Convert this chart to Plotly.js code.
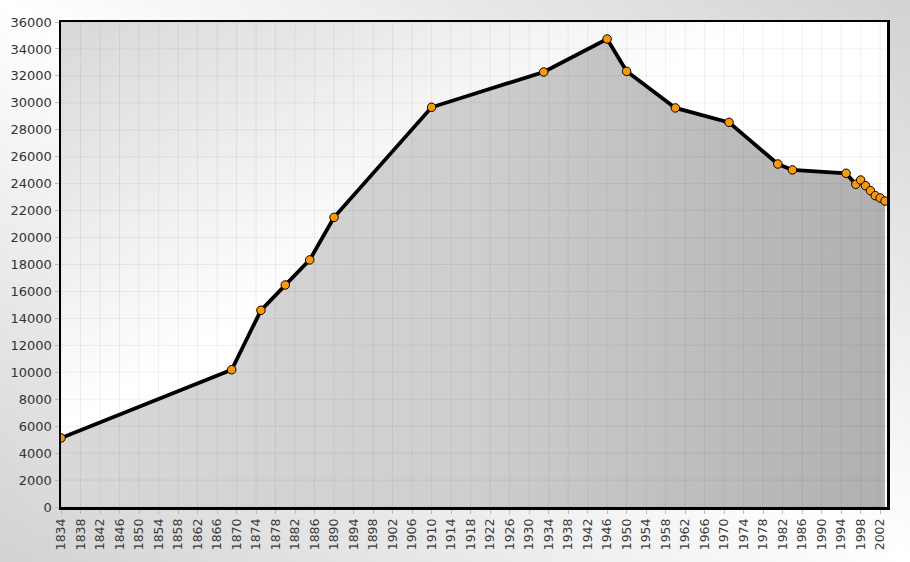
<!DOCTYPE html>
<html>
<head>
<meta charset="utf-8">
<script src="https://cdn.plot.ly/plotly-3.0.1.min.js"></script>
<style>
  html, body { margin: 0; padding: 0; }
  #chart {
    width: 910px; height: 562px;
    background:
      linear-gradient(to bottom right, #d8d8d8 0%, #ffffff 42%, #ffffff 100%) 61px 22px / 826px 485px no-repeat,
      linear-gradient(to top right, #d2d2d2 0%, #ffffff 50%, #d2d2d2 100%);
  }
</style>
</head>
<body>
<div id="chart"></div>
<script>
// Population data
var years = [1834, 1869, 1875, 1880, 1885, 1890, 1910, 1933, 1946, 1950, 1960, 1971, 1981, 1984, 1995, 1997, 1998, 1999, 2000, 2001, 2002, 2003];
var population = [5120, 10190, 14600, 16480, 18340, 21500, 29670, 32290, 34740, 32340, 29620, 28550, 25460, 25020, 24770, 23950, 24270, 23850, 23480, 23110, 22940, 22710];

// Tick labels
var xTickVals = [];
for (var yr = 1834; yr <= 2002; yr += 4) xTickVals.push(yr);
var yTickVals = [];
for (var v = 0; v <= 36000; v += 2000) yTickVals.push(v);

var shapes = [];
xTickVals.forEach(function (t) {
  shapes.push({type: 'line', xref: 'x', yref: 'paper', x0: t, x1: t, y0: 0, y1: 1,
    line: {color: 'rgba(0,0,0,0.06)', width: 1}, layer: 'above'});
});
yTickVals.forEach(function (t) {
  shapes.push({type: 'line', xref: 'paper', yref: 'y', x0: 0, x1: 1, y0: t, y1: t,
    line: {color: 'rgba(0,0,0,0.06)', width: 1}, layer: 'above'});
});

var traces = [
  {
    x: years, y: population, type: 'scatter', mode: 'none',
    fill: 'tozeroy',
    fillgradient: {type: 'horizontal', colorscale: [[0, '#d8d8d8'], [0.5, '#cecece'], [1, '#b0b0b0']]},
    hoverinfo: 'skip', showlegend: false
  },
  {
    x: years, y: population, type: 'scatter', mode: 'lines+markers',
    line: {color: '#000000', width: 3.8},
    marker: {color: '#ff9900', size: 8.5, line: {color: '#000000', width: 1}},
    showlegend: false
  }
];

var layout = {
  width: 910, height: 562,
  margin: {l: 61, r: 23, t: 22, b: 55},
  paper_bgcolor: 'rgba(0,0,0,0)',
  plot_bgcolor: 'rgba(0,0,0,0)',
  font: {family: 'DejaVu Sans', color: '#333333', size: 13},
  xaxis: {
    range: [1834, 2003.4],
    tickmode: 'array', tickvals: xTickVals, ticktext: xTickVals.map(String),
    tickangle: -90, showgrid: false, zeroline: false,
    showline: true, linecolor: '#000000', linewidth: 2.5, mirror: true,
    ticks: 'outside', ticklen: 4, tickcolor: '#bbbbbb',
    tickfont: {family: 'DejaVu Sans', size: 12.5, color: '#3a3a3a'}
  },
  yaxis: {
    range: [0, 36000],
    tickmode: 'array', tickvals: yTickVals, ticktext: yTickVals.map(String),
    showgrid: false, zeroline: false,
    showline: true, linecolor: '#000000', linewidth: 2.5, mirror: true,
    ticks: 'outside', ticklen: 4, tickcolor: '#bbbbbb',
    tickfont: {family: 'DejaVu Sans', size: 13, color: '#333333'}
  },
  shapes: shapes
};

Plotly.newPlot('chart', traces, layout, {displayModeBar: false, staticPlot: true});
</script>
</body>
</html>
